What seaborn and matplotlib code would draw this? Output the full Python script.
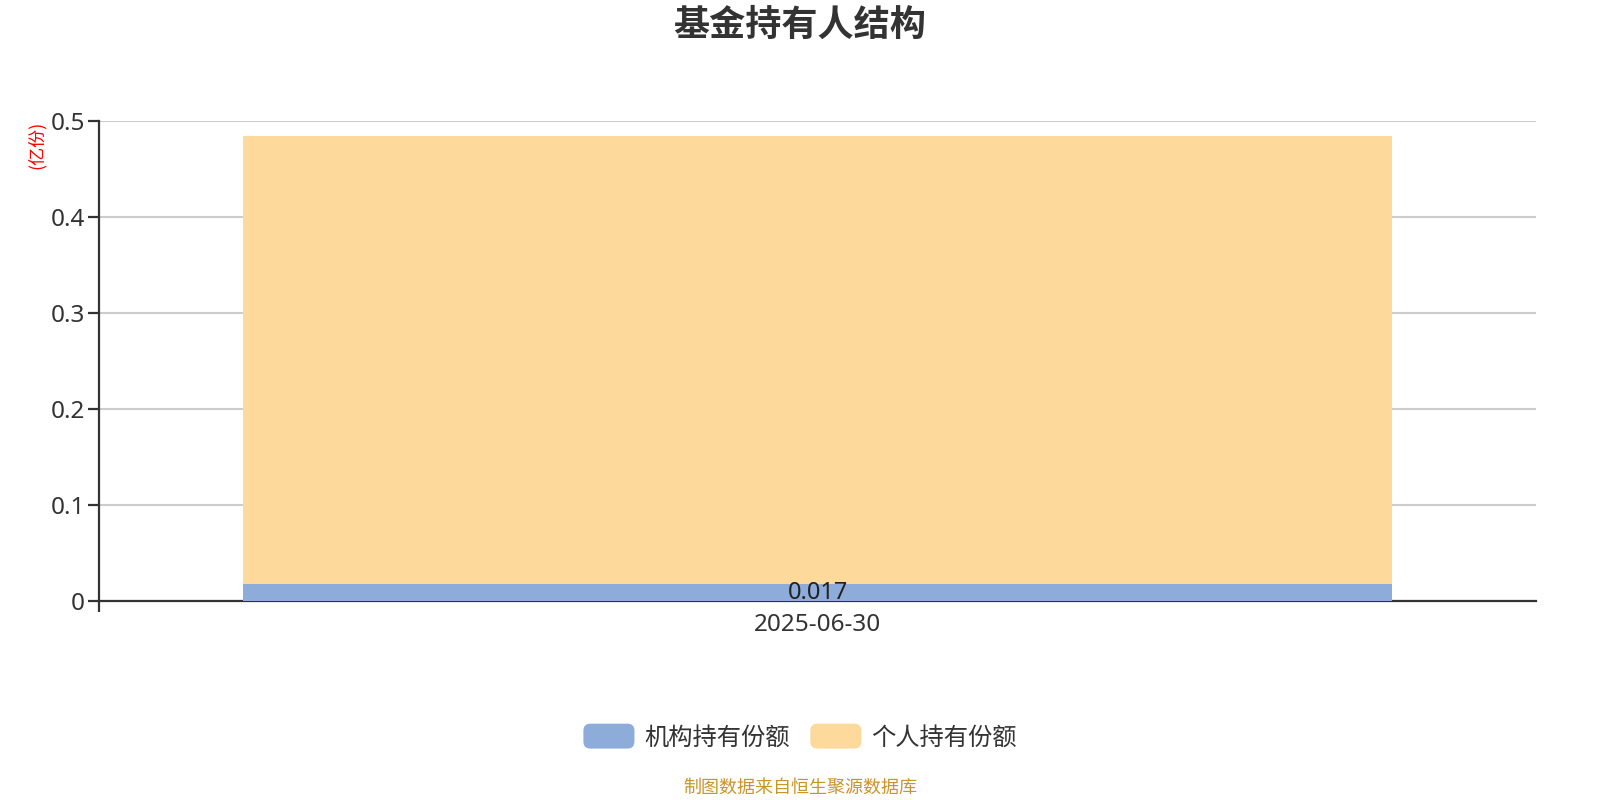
import matplotlib
matplotlib.use("Agg")
import matplotlib.pyplot as plt
from matplotlib.patches import FancyBboxPatch, Patch
from matplotlib.legend_handler import HandlerPatch
import seaborn as sns
import pandas as pd

# ---- data ----
dates = ["2025-06-30"]
institutional = [0.017]     # 机构持有份额 (亿份)
individual = [0.467]        # 个人持有份额 (亿份)
series_names = ["机构持有份额", "个人持有份额"]
y_ticks = [0, 0.1, 0.2, 0.3, 0.4, 0.5]
y_tick_labels = ["0", "0.1", "0.2", "0.3", "0.4", "0.5"]

BLUE = "#8DACD9"
ORANGE = "#FDD99B"
TEXT = "#333333"

sns.set_theme(style="white")
plt.rcParams["font.family"] = ["Noto Sans", "Noto Sans CJK SC", "DejaVu Sans"]

df = pd.DataFrame({
    "date": dates,
    "inst": institutional,
    "indiv": individual,
})
df["total"] = df["inst"] + df["indiv"]

fig = plt.figure(figsize=(16, 8), dpi=100)
ax = fig.add_axes([0.0619, 0.249, 0.8981, 0.600])

sns.barplot(data=df, x="date", y="total", color=ORANGE, width=0.8,
            saturation=1, ax=ax, zorder=2)
n_before = len(ax.patches)
sns.barplot(data=df, x="date", y="inst", color=BLUE, width=0.8,
            saturation=1, ax=ax, zorder=3)
blue_patches = ax.patches[n_before:]
for p in ax.patches:
    p.set_edgecolor("none")
    p.set_linewidth(0)

# label on institutional segment (clipped to the segment, as in the source)
for i, v in enumerate(df["inst"]):
    t = ax.text(i, v / 2, f"{v:g}", ha="center", va="center", fontsize=17,
                color="#222222", zorder=5)
    if i < len(blue_patches):
        t.set_clip_path(blue_patches[i])

ax.set_xlim(-0.5, len(dates) - 0.5)
ax.set_ylim(0, 0.5)
ax.set_yticks(y_ticks)
ax.set_yticklabels(y_tick_labels)
ax.yaxis.grid(True, color="#CCCCCC", linewidth=1.5, zorder=0)
ax.set_axisbelow(True)
ax.set_xlabel("")
ax.set_ylabel("")

for s in ["top", "right"]:
    ax.spines[s].set_visible(False)
for s in ["left", "bottom"]:
    ax.spines[s].set_color(TEXT)
    ax.spines[s].set_linewidth(1.6)

ax.tick_params(axis="y", direction="out", length=8, width=1.6, color=TEXT,
               labelsize=17.5, labelcolor=TEXT, pad=2, left=True)
ax.tick_params(axis="x", which="major", length=0, labelsize=17.5,
               labelcolor=TEXT, pad=9, bottom=True)
ax.set_xticks([-0.5], minor=True)
ax.tick_params(axis="x", which="minor", direction="out", length=8,
               width=1.6, color=TEXT, bottom=True)

# unit label
fig.text(0.0231, 1 - 145 / 800, "(亿份)", rotation=90, color="red",
         fontsize=13, ha="center", va="center",
         family=["Noto Sans CJK SC", "DejaVu Sans"])

# title
fig.text(0.5, 1 - 25 / 800, "基金持有人结构", ha="center", va="center",
         fontsize=26, fontweight="bold", color=TEXT,
         family=["Noto Sans CJK SC", "DejaVu Sans"])


class RoundHandler(HandlerPatch):
    def create_artists(self, legend, orig_handle, xdescent, ydescent,
                       width, height, fontsize, trans):
        p = FancyBboxPatch((-xdescent, -ydescent), width, height,
                           boxstyle="round,pad=0,rounding_size=5",
                           facecolor=orig_handle.get_facecolor(),
                           edgecolor="none", transform=trans)
        return [p]


handles = [Patch(facecolor=BLUE), Patch(facecolor=ORANGE)]
fig.legend(handles, series_names, loc="center", bbox_to_anchor=(0.5, 1 - 737 / 800),
           ncol=2, frameon=False, labelcolor=TEXT,
           handlelength=2.1, handleheight=1.2, handletextpad=0.4,
           columnspacing=0.85, handler_map={Patch: RoundHandler()},
           prop={"family": ["Noto Sans CJK SC", "DejaVu Sans"], "size": 17.5})

fig.text(0.5, 1 - 788 / 800, "制图数据来自恒生聚源数据库", ha="center",
         va="center", fontsize=13, color="#C8952C",
         family=["Noto Sans CJK SC", "DejaVu Sans"])

fig.savefig("out.png", dpi=100)
